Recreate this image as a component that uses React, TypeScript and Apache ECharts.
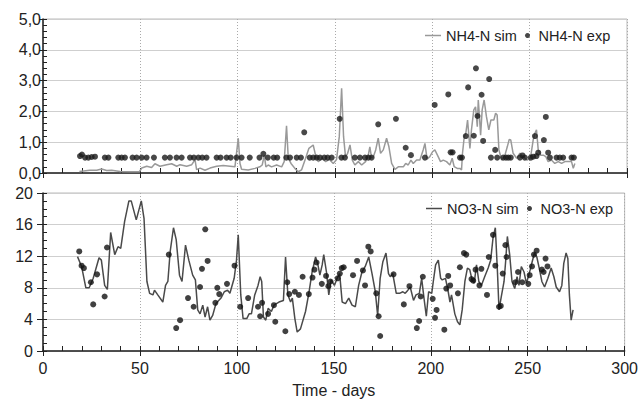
import React, { useEffect, useRef } from 'react';
import * as echarts from 'echarts';

// ---------- data (day, value) ----------
const nh4Sim: [number, number][] = [
  [18.7,0.05],[24.1,0.09],[27.6,0.09],[30.1,0.13],[32.7,0.08],[35.3,0.09],[39.6,0.05],[44.7,0.04],[49.5,0.04],[50.7,0.16],
  [53.3,0.22],[55.8,0.18],[57.5,0.3],[60.1,0.22],[63.5,0.27],[66.1,0.3],[68.7,0.22],[70.4,0.27],[73.8,0.22],[76.4,0.27],
  [78.1,0.43],[78.9,0.11],[80.7,0.16],[83.2,0.09],[85.8,0.16],[89.2,0.22],[92.6,0.24],[96.1,0.22],[98.6,0.2],[100.3,1.13],
  [101.2,0.31],[102.0,0.12],[105.4,0.1],[108.9,0.15],[111.4,0.2],[112.6,0.26],[113.7,0.58],[114.5,0.2],[115.7,0.26],[117.4,0.2],
  [120.0,0.26],[122.6,0.2],[123.9,0.37],[125.1,1.53],[126.0,0.48],[127.4,0.31],[129.4,0.15],[131.1,0.04],[132.8,0.1],[134.9,0.48],
  [136.6,0.8],[138.8,0.91],[140.0,0.58],[141.4,0.37],[143.5,0.48],[145.2,0.37],[147.1,0.44],[149.1,0.31],[150.8,0.44],[152.2,1.18],
  [153.4,2.75],[154.4,1.18],[155.4,0.53],[156.5,0.64],[157.7,0.91],[158.9,0.42],[160.2,0.26],[162.0,0.37],[163.7,0.26],[165.7,0.37],
  [167.1,0.58],[167.9,0.85],[168.8,0.48],[169.7,0.53],[170.9,0.75],[172.2,1.13],[173.4,0.64],[174.8,0.75],[176.5,1.13],[177.7,0.85],
  [179.1,0.31],[180.8,0.12],[182.5,0.2],[185.1,0.2],[186.3,0.31],[187.6,0.26],[189.0,0.42],[190.2,0.31],[191.9,0.42],[193.6,0.42],
  [195.3,0.75],[196.2,0.96],[197.3,0.45],[198.7,0.53],[200.1,0.69],[201.3,0.75],[203.0,0.53],[204.2,0.37],[205.6,0.42],[207.3,0.37],
  [209.0,0.26],[210.2,0.48],[211.2,0.21],[212.8,0.15],[214.2,0.15],[215.0,0.1],[215.5,0.64],[216.4,1.18],[217.2,1.29],[218.1,1.72],
  [219.3,0.8],[220.1,1.4],[221.3,2.05],[222.2,2.15],[223.1,1.5],[223.6,2.37],[224.1,1.94],[224.8,1.23],[225.6,2.05],[226.6,2.37],
  [227.8,1.83],[229.0,1.4],[230.1,1.72],[231.6,1.72],[232.5,1.94],[233.3,1.88],[234.2,0.75],[235.6,0.42],[237.3,0.58],[238.5,0.85],
  [239.5,1.09],[240.3,1.07],[241.5,0.64],[243.3,0.48],[245.0,0.64],[246.7,0.53],[248.7,0.42],[250.4,0.48],[251.8,1.07],[252.7,1.29],
  [253.5,1.4],[254.4,0.75],[255.6,0.58],[257.0,0.58],[258.3,0.53],[259.5,0.37],[261.2,0.42],[262.9,0.31],[264.7,0.37],[266.4,0.31],
  [268.1,0.37],[269.8,0.37],[271.5,0.37],[272.4,0.15],[273.2,0.31]
];

const nh4Exp: [number, number][] = [
  [19.0,0.55],[20.0,0.6],[21.6,0.5],[23.3,0.5],[25.0,0.52],[26.7,0.53],[31.8,0.5],[33.6,0.5],[38.7,0.5],[40.4,0.5],
  [42.1,0.5],[46.0,0.5],[48.1,0.5],[50.7,0.5],[53.2,0.5],[57.0,0.5],[62.6,0.5],[65.2,0.5],[68.6,0.5],[71.2,0.5],
  [75.5,0.5],[77.5,0.5],[79.8,0.5],[81.8,0.5],[84.0,0.5],[89.2,0.5],[91.2,0.5],[94.3,0.5],[96.4,0.5],[99.4,0.5],
  [102.0,0.5],[106.2,0.5],[111.2,0.5],[113.2,0.62],[115.5,0.5],[118.5,0.5],[120.3,0.5],[125.0,0.5],[126.9,0.5],[130.3,0.5],
  [132.5,0.5],[134.2,1.32],[137.0,0.5],[138.8,0.5],[140.6,0.5],[142.3,0.5],[144.5,0.5],[146.2,0.5],[148.3,0.5],[152.4,1.76],
  [153.3,0.5],[155.1,0.5],[160.2,0.5],[162.8,0.5],[165.4,0.5],[167.1,0.5],[168.8,0.5],[172.2,1.58],[181.3,1.76],[186.3,0.82],
  [189.0,0.58],[196.2,0.5],[201.2,2.21],[208.2,2.55],[209.4,0.67],[210.4,0.67],[214.2,0.5],[215.2,0.5],[217.2,1.2],[218.4,2.78],
  [221.3,1.21],[222.4,3.4],[223.2,1.85],[225.3,2.54],[226.1,1.04],[229.2,3.05],[230.1,0.5],[232.3,0.75],[233.3,0.5],[236.4,0.5],
  [237.8,0.5],[239.0,0.5],[240.3,0.5],[245.0,0.5],[246.3,0.57],[247.5,0.5],[250.6,0.5],[251.8,0.53],[252.7,1.2],[253.5,0.55],
  [254.4,0.66],[257.3,1.07],[258.3,1.82],[259.5,0.66],[260.4,0.5],[263.8,0.5],[265.5,0.5],[267.2,0.5],[271.5,0.5],[272.7,0.5]
];

const no3Sim: [number, number][] = [
  [17.8,11.95],[19.9,10.7],[22.1,8.0],[23.8,8.0],[25.9,9.2],[28.9,11.8],[30.1,11.5],[31.8,8.3],[33.2,7.8],[34.9,15.0],
  [37.0,12.2],[38.7,13.2],[40.1,13.0],[42.1,16.4],[44.3,19.0],[45.5,19.0],[48.1,16.6],[50.7,19.0],[52.1,16.8],[53.6,8.8],
  [55.0,7.3],[56.7,7.1],[57.5,7.7],[59.2,7.1],[61.8,6.2],[63.2,8.3],[64.4,8.8],[65.6,12.6],[67.3,15.6],[68.7,14.1],
  [70.4,9.6],[71.7,8.8],[73.5,13.4],[75.2,11.5],[77.2,9.6],[78.6,9.0],[79.8,5.2],[81.0,4.7],[82.4,5.8],[83.6,4.3],
  [84.9,5.6],[86.1,3.9],[87.5,4.5],[89.2,6.0],[91.8,6.7],[93.5,7.5],[95.2,7.7],[96.4,7.3],[98.6,9.2],[99.8,11.5],
  [100.7,14.7],[102.0,7.1],[103.2,4.1],[105.1,4.1],[106.3,4.7],[107.5,4.7],[109.2,7.1],[110.9,8.3],[112.0,9.4],[112.8,8.8],
  [113.7,4.3],[114.9,3.9],[116.1,5.4],[117.8,5.0],[119.1,5.8],[121.7,6.2],[124.0,6.4],[125.1,11.9],[126.3,7.1],[127.7,6.2],
  [128.6,6.7],[129.9,4.1],[131.1,2.4],[132.8,2.8],[135.4,5.0],[137.1,7.3],[138.8,10.0],[140.6,11.9],[141.8,10.9],[142.8,9.6],
  [144.0,10.9],[144.8,12.2],[146.2,10.0],[147.4,7.1],[148.6,9.0],[150.3,8.3],[151.7,9.2],[153.0,9.8],[154.3,6.2],[156.0,6.0],
  [157.7,6.7],[159.4,5.8],[161.1,5.6],[162.8,8.3],[164.5,10.0],[166.2,10.7],[168.0,11.9],[169.7,9.8],[171.4,7.5],[172.6,4.5],
  [173.9,9.2],[175.3,11.3],[176.9,12.4],[178.2,9.8],[179.1,9.4],[180.4,9.8],[182.2,7.3],[183.9,7.3],[185.6,7.5],[186.8,7.3],
  [188.2,7.7],[189.4,8.1],[191.1,6.4],[192.4,7.1],[194.1,7.3],[195.3,9.2],[196.5,6.7],[197.7,4.4],[198.9,7.5],[200.5,7.3],
  [201.3,8.8],[202.5,10.9],[203.9,11.5],[205.1,9.2],[205.9,9.0],[207.6,9.2],[209.0,7.5],[209.9,6.2],[210.7,7.1],[212.4,4.7],
  [213.8,3.7],[215.0,3.3],[216.2,5.2],[217.6,8.8],[218.9,10.5],[220.1,10.3],[221.3,9.0],[222.4,8.6],[223.6,10.9],[224.8,8.8],
  [226.1,8.3],[227.8,9.4],[229.6,10.5],[230.9,11.5],[232.1,14.3],[233.3,15.6],[234.4,10.0],[235.2,5.2],[236.4,6.9],[237.8,8.8],
  [238.6,11.3],[239.5,14.5],[240.7,12.2],[241.9,8.8],[243.3,7.9],[244.5,9.4],[245.5,8.3],[246.7,10.7],[248.1,10.0],[249.3,8.6],
  [250.1,9.2],[251.3,10.3],[252.3,11.3],[253.5,12.4],[254.7,11.9],[256.1,10.3],[257.3,8.8],[258.7,8.1],[260.4,9.2],[262.1,10.5],
  [263.5,9.4],[264.7,8.1],[266.4,7.5],[267.6,8.3],[268.6,11.1],[269.8,12.4],[270.7,11.7],[271.5,7.1],[272.4,3.9],[273.4,5.2]
];

const no3Exp: [number, number][] = [
  [18.7,12.6],[19.9,10.8],[21.1,10.5],[24.7,8.7],[25.9,5.9],[27.9,9.7],[31.8,6.9],[33.0,13.1],[64.9,12.2],[68.7,2.9],
  [70.7,3.9],[74.8,6.7],[77.7,5.6],[81.0,8.1],[82.0,10.4],[83.7,15.4],[84.9,11.4],[88.9,6.1],[89.9,8.0],[90.9,7.2],
  [94.9,8.5],[98.8,10.8],[101.7,5.6],[105.8,6.7],[110.9,5.6],[112.0,4.4],[113.0,6.1],[116.1,4.7],[119.1,5.8],[119.8,3.7],
  [125.0,2.5],[126.0,8.7],[127.0,7.2],[129.9,7.5],[132.0,7.1],[133.9,9.4],[137.1,7.2],[139.0,9.3],[140.0,10.3],[141.1,11.2],
  [143.8,8.5],[146.0,9.5],[147.2,8.2],[148.3,8.8],[152.0,9.2],[153.1,9.8],[154.1,10.5],[155.1,10.6],[159.9,9.6],[162.0,11.4],
  [165.0,10.2],[166.1,8.3],[167.8,13.2],[169.0,12.6],[171.9,7.3],[173.1,4.4],[173.9,1.9],[180.8,9.7],[186.1,5.9],[189.0,8.2],
  [192.8,2.9],[194.0,3.8],[194.8,6.9],[195.9,9.4],[201.0,6.6],[202.2,4.2],[203.0,5.2],[207.0,2.7],[208.0,7.9],[209.0,9.5],
  [210.0,8.3],[214.0,7.3],[215.0,10.6],[217.1,12.4],[218.3,12.2],[221.0,9.1],[221.9,8.9],[223.1,10.3],[225.1,8.3],[226.1,10.4],
  [229.0,7.1],[229.9,11.9],[232.1,14.7],[233.3,10.8],[235.2,5.6],[236.1,5.7],[237.1,9.8],[238.5,13.4],[239.1,11.9],[243.6,8.7],
  [245.0,10.0],[247.2,8.7],[250.3,8.5],[251.0,9.6],[252.2,10.7],[253.2,12.2],[254.6,12.7],[257.3,10.3],[258.2,10.0],[259.2,11.7],
  [260.2,10.7]
];

const xRange = { min: 0, max: 300, interval: 50 };
const nh4Range = { min: 0, max: 5, interval: 1 };
const no3Range = { min: 0, max: 20, interval: 4 };
const xName = 'Time - days';

const FONT = 'Liberation Sans, Arial, sans-serif';
const AX = '#222';

export default function App() {
  const ref = useRef<HTMLDivElement>(null);
  useEffect(() => {
    if (!ref.current) return;
    const chart = echarts.init(ref.current, undefined, { renderer: 'svg' });
    const axisLine = { show: true, lineStyle: { color: AX, width: 1.5 } };
    const tickStyle = { color: AX, width: 1 };
    const vSplit = { show: true, lineStyle: { color: '#aaa', type: [1, 2] as any, width: 1 } };
    const hSplit = { show: true, lineStyle: { color: '#cfcfcf', width: 1 } };
    const labelStyle = { color: '#222', fontSize: 16, fontFamily: FONT };

    const xMain = (grid: number, labels: boolean) => ({
      gridIndex: grid, type: 'value', ...xRange, position: 'bottom',
      axisLine, axisTick: { show: true, length: 5, lineStyle: tickStyle },
      minorTick: { show: false },
      axisLabel: labels ? { ...labelStyle, margin: 9 } : { show: false },
      splitLine: vSplit,
      ...(labels ? { name: xName, nameLocation: 'middle', nameGap: 31, nameTextStyle: { ...labelStyle } } : {}),
    });
    const xInner = (grid: number) => ({
      gridIndex: grid, type: 'value', ...xRange, position: 'bottom',
      axisLine: { show: false },
      axisTick: { show: true, inside: true, length: 5, lineStyle: tickStyle },
      minorTick: { show: true, splitNumber: 5, length: 5, lineStyle: tickStyle },
      axisLabel: { show: false }, splitLine: { show: false },
    });
    const yMain = (grid: number, range: any, fmt: any, margin: number, outLen: number) => ({
      gridIndex: grid, type: 'value', ...range, position: 'left',
      axisLine, axisTick: { show: true, length: outLen, lineStyle: tickStyle },
      minorTick: { show: false },
      axisLabel: { ...labelStyle, margin, formatter: fmt },
      splitLine: hSplit,
    });
    const yInner = (grid: number, range: any, split: number) => ({
      gridIndex: grid, type: 'value', ...range, position: 'left',
      axisLine: { show: false },
      axisTick: { show: true, inside: true, length: 4, lineStyle: tickStyle },
      minorTick: { show: true, splitNumber: split, length: 4, lineStyle: tickStyle },
      axisLabel: { show: false }, splitLine: { show: false },
    });

    const legendBase = {
      textStyle: { ...labelStyle, fontSize: 14.5 },
      itemGap: 0,
      padding: 0,
      selectedMode: false,
    };

    chart.setOption({
      animation: false,
      backgroundColor: '#fff',
      textStyle: { fontFamily: FONT },
      grid: [
        { left: 43, right: 14, top: 19, height: 154, show: true, borderColor: '#bbb', borderWidth: 1, backgroundColor: 'transparent' },
        { left: 43, right: 14, top: 193, height: 158, show: true, borderColor: '#bbb', borderWidth: 1, backgroundColor: 'transparent' },
      ],
      xAxis: [xMain(0, false), xInner(0), xMain(1, true), xInner(1)],
      yAxis: [
        yMain(0, nh4Range, (v: number) => v.toFixed(1).replace('.', ','), 2, 4),
        yInner(0, nh4Range, 5),
        yMain(1, no3Range, (v: number) => String(v), 10, 6),
        yInner(1, no3Range, 4),
      ],
      legend: [
        { ...legendBase, data: ['NH4-N sim'], left: 425, top: 28, icon: 'rect', itemWidth: 16, itemHeight: 1.5 },
        { ...legendBase, data: ['NH4-N exp'], left: 525, top: 28, icon: 'circle', itemWidth: 12, itemHeight: 5 },
        { ...legendBase, data: ['NO3-N sim'], left: 426, top: 201, icon: 'rect', itemWidth: 16, itemHeight: 1.5 },
        { ...legendBase, data: ['NO3-N exp'], left: 527, top: 201, icon: 'circle', itemWidth: 12, itemHeight: 5 },
      ],
      series: [
        {
          name: 'NH4-N sim', type: 'line', xAxisIndex: 0, yAxisIndex: 0, data: nh4Sim,
          showSymbol: false, symbol: 'none', color: '#999', lineStyle: { color: '#999', width: 1.5 }, z: 3,
        },
        {
          name: 'NH4-N exp', type: 'scatter', xAxisIndex: 0, yAxisIndex: 0, data: nh4Exp,
          symbolSize: 6, color: '#1a1a1a', itemStyle: { color: '#1a1a1a' }, z: 4,
        },
        {
          name: 'NO3-N sim', type: 'line', xAxisIndex: 2, yAxisIndex: 2, data: no3Sim,
          showSymbol: false, symbol: 'none', color: '#4a4a4a', lineStyle: { color: '#4a4a4a', width: 1.5 }, z: 3,
        },
        {
          name: 'NO3-N exp', type: 'scatter', xAxisIndex: 2, yAxisIndex: 2, data: no3Exp,
          symbolSize: 6, color: '#111', itemStyle: { color: '#111' }, z: 4,
        },
      ],
    });
    return () => chart.dispose();
  }, []);
  return <div ref={ref} style={{ width: 641, height: 402, position: 'absolute', left: 0, top: 0 }} />;
}
